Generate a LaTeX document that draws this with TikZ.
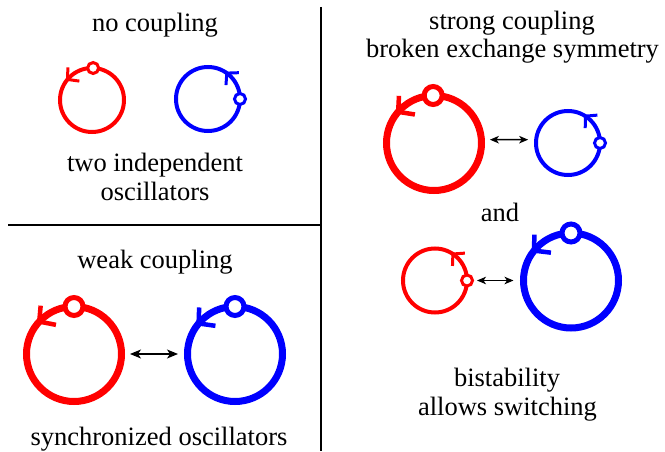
\documentclass[tikz,border=0pt]{standalone}
\usepackage{fontspec}
\setmainfont{Liberation Serif}
\usetikzlibrary{arrows.meta}

\begin{document}
\begin{tikzpicture}[x=1pt,y=1pt]
        \tikzset{
            osc/.style={draw,shape=circle,inner sep=0pt,outer sep=0pt},
            small/.style={minimum size=64pt,line width=4pt},
            big/.style={minimum size=95pt,line width=7pt},
            smalldot/.style={draw=#1,shape=circle,fill=white,inner sep=0pt,minimum size=11pt,line width=3pt},
            bigdot/.style={draw=#1,shape=circle,fill=white,inner sep=0pt,minimum size=18pt,line width=5pt},
            smallbarb/.style={line width=3pt,line join=miter},
            bigbarb/.style={line width=4.5pt,line join=miter},
            couple/.style={{Stealth[length=11pt,width=9pt,inset=3pt]}-{Stealth[length=11pt,width=9pt,inset=3pt]},line width=1.7pt},
            thincouple/.style={{Stealth[length=9pt,width=7.5pt,inset=2.5pt]}-{Stealth[length=9pt,width=7.5pt,inset=2.5pt]},line width=1.4pt},
            txt/.style={font=\fontsize{26.5}{30}\selectfont,text height=18pt,text depth=6pt}
        }
        \useasboundingbox (0,0) rectangle (665,451);

        % frame lines
        \coordinate (vtop) at (320.7,444);
        \coordinate (vbot) at (320.7,0);
        \coordinate (hleft) at (8,226);
        \coordinate (hright) at (320.7,226);
        \draw[line width=2pt] (vtop) -- (vbot);
        \draw[line width=2pt] (hleft) -- (hright);

        % no coupling
        \node[txt] (nocoup) at (155,425) {no coupling};
        \node[osc,small,red] (redA) at (92,351) {};
        \node[osc,small,blue] (blueA) at (208,352) {};
        \draw[smallbarb,red] ([shift={(-8:12pt)}]redA.140) -- (redA.140) -- ([shift={(88:12pt)}]redA.140);
        \draw[smallbarb,blue] ([shift={(-94:12pt)}]blueA.54) -- (blueA.54) -- ([shift={(2:12pt)}]blueA.54);
        \node[smalldot=red] (redAdot) at (redA.88) {};
        \node[smalldot=blue] (blueAdot) at (blueA.0) {};
        \node[txt] (indepA) at (155,285.3) {two independent};
        \node[txt] (indepB) at (155,257) {oscillators};

        % weak coupling
        \node[txt] (weak) at (155,189) {weak coupling};
        \node[osc,big,red] (redB) at (74,97) {};
        \node[osc,big,blue] (blueB) at (235,97) {};
        \draw[bigbarb,red] ([shift={(-11:17pt)}]redB.137) -- (redB.137) -- ([shift={(85:16pt)}]redB.137);
        \draw[bigbarb,blue] ([shift={(-8:17pt)}]blueB.140) -- (blueB.140) -- ([shift={(88:16pt)}]blueB.140);
        \node[bigdot=red] (redBdot) at (redB.90) {};
        \node[bigdot=blue] (blueBdot) at (blueB.90) {};
        \draw[couple,shorten <=8.5pt,shorten >=9.5pt] (redB) -- (blueB);
        \node[txt] (sync) at (159,12) {synchronized oscillators};

        % strong coupling
        \node[txt] (strong) at (512,427) {strong coupling};
        \node[txt] (broken) at (512.5,399.3) {broken exchange symmetry};
        \node[osc,big,red] (redC) at (434,308) {};
        \node[osc,small,blue] (blueC) at (568,308) {};
        \draw[bigbarb,red] ([shift={(-9:17pt)}]redC.139) -- (redC.139) -- ([shift={(87:16pt)}]redC.139);
        \draw[smallbarb,blue] ([shift={(-91:12pt)}]blueC.57) -- (blueC.57) -- ([shift={(5:12pt)}]blueC.57);
        \node[bigdot=red] (redCdot) at (redC.91) {};
        \node[smalldot=blue] (blueCdot) at (blueC.0) {};
        \draw[thincouple,shorten <=8.5pt,shorten >=8pt] (redC.4) -- (blueC.174);

        \node[txt] (and) at (500,235.3) {and};

        % bistability
        \node[osc,small,red] (redD) at (435,170.5) {};
        \node[osc,big,blue] (blueD) at (571,170.5) {};
        \draw[smallbarb,red] ([shift={(-92:12pt)}]redD.56) -- (redD.56) -- ([shift={(4:12pt)}]redD.56);
        \draw[bigbarb,blue] ([shift={(-7:17pt)}]blueD.141) -- (blueD.141) -- ([shift={(89:16pt)}]blueD.141);
        \node[smalldot=red] (redDdot) at (redD.0) {};
        \node[bigdot=blue] (blueDdot) at (blueD.90) {};
        \draw[thincouple,shorten <=10pt,shorten >=10pt] (redD) -- (blueD);
        \node[txt] (bistab) at (507,71) {bistability};
        \node[txt] (switch) at (507.5,42) {allows switching};
\end{tikzpicture}
\end{document}
